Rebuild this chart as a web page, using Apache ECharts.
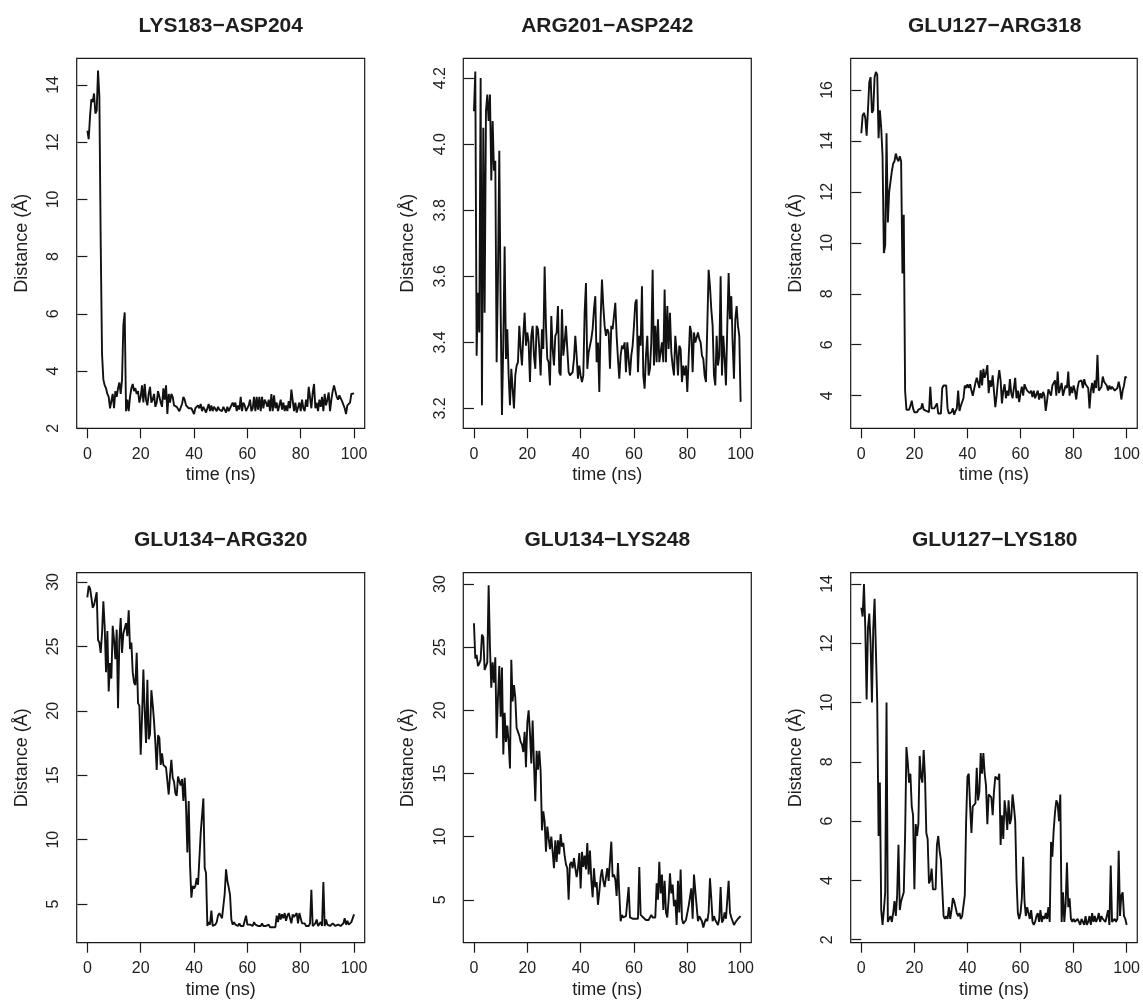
<!DOCTYPE html>
<html>
<head>
<meta charset="utf-8">
<script src="https://cdn.jsdelivr.net/npm/echarts@6/dist/echarts.min.js"></script>
<style>
html,body{margin:0;padding:0;background:#fff;}
#chart{width:1143px;height:1006px;}
</style>
</head>
<body>
<div id="chart"></div>
<script>
// sampling: one frame every 0.5 ns, 0..100 ns
const timeStepNs = 0.5;
const xTicks = [0, 20, 40, 60, 80, 100];

const titles = ['LYS183\u2212ASP204', 'ARG201\u2212ASP242', 'GLU127\u2212ARG318',
                'GLU134\u2212ARG320', 'GLU134\u2212LYS248', 'GLU127\u2212LYS180'];

const lys183Asp204 = [
 12.4, 12.1, 12.9, 13.5, 13.4, 13.7, 13.0, 13.1, 14.5, 13.6,
 8.5, 4.6, 3.7, 3.5, 3.4, 3.2, 3.1, 2.7, 2.7, 3.2,
 2.7, 3.3, 3.1, 3.4, 3.6, 3.2, 3.7, 5.6, 6.05, 2.6,
 3.0, 2.6, 3.1, 3.4, 3.55, 3.3, 3.4, 3.2, 3.3, 2.9,
 3.1, 3.5, 2.9, 3.55, 3.0, 2.8, 3.2, 3.45, 2.9, 3.0,
 3.2, 2.75, 2.9, 3.3, 3.1, 2.9, 2.75, 3.4, 3.0, 3.5,
 2.5, 3.2, 2.9, 3.2, 3.1, 2.8, 2.8, 2.75, 2.7, 2.6,
 2.6, 2.85, 3.1, 3.0, 2.8, 2.8, 2.7, 2.65, 2.7, 2.75,
 2.5, 2.7, 2.65, 2.8, 2.7, 2.85, 2.6, 2.75, 2.65, 2.55,
 2.7, 2.85, 2.6, 2.8, 2.6, 2.75, 2.7, 2.6, 2.75, 2.65,
 2.7, 2.6, 2.75, 2.65, 2.55, 2.75, 2.6, 2.7, 2.8, 2.9,
 2.75, 2.9, 2.6, 2.8, 2.65, 3.1, 2.6, 2.9, 2.8, 2.6,
 2.7, 2.8, 3.0, 2.6, 2.7, 3.1, 2.6, 3.1, 2.65, 3.1,
 2.6, 3.1, 2.7, 3.0, 2.9, 2.75, 3.0, 2.6, 3.2, 2.6,
 3.15, 2.7, 2.9, 2.6, 2.8, 3.0, 2.65, 2.9, 2.6, 2.8,
 2.6, 2.95, 2.7, 3.35, 3.3, 2.6, 2.9, 2.55, 2.6, 2.9,
 2.6, 3.0, 2.7, 2.6, 3.0, 2.75, 3.45, 3.5, 2.7, 3.25,
 3.55, 2.7, 2.9, 2.6, 3.0, 2.75, 3.1, 2.6, 3.2, 2.8,
 3.0, 3.25, 2.6, 3.0, 3.3, 3.5, 3.3, 3.1, 3.0, 3.15,
 3.1, 2.95, 3.0, 2.7, 2.5, 2.8, 2.75, 2.9, 3.2, 3.2,
 3.22
];

const arg201Asp242 = [
 4.10, 4.22, 3.36, 3.55, 3.43, 4.20, 3.21, 4.05, 3.49, 4.10,
 4.15, 4.07, 4.15, 3.89, 4.07, 3.92, 3.95, 3.34, 3.60, 3.98,
 3.50, 3.18, 3.40, 3.69, 3.35, 3.44, 3.30, 3.21, 3.32, 3.26,
 3.20, 3.30, 3.33, 3.34, 3.45, 3.38, 3.33, 3.42, 3.49, 3.39,
 3.43, 3.40, 3.28, 3.42, 3.45, 3.36, 3.32, 3.45, 3.44, 3.38,
 3.30, 3.44, 3.38, 3.63, 3.45, 3.35, 3.34, 3.27, 3.48, 3.38,
 3.33, 3.42, 3.43, 3.51, 3.31, 3.30, 3.50, 3.36, 3.40, 3.45,
 3.45, 3.31, 3.30, 3.30, 3.31, 3.35, 3.42, 3.36, 3.29, 3.33,
 3.30, 3.28, 3.30, 3.49, 3.58, 3.32, 3.37, 3.37, 3.41, 3.44,
 3.50, 3.54, 3.34, 3.40, 3.25, 3.47, 3.59, 3.51, 3.45, 3.42,
 3.44, 3.43, 3.32, 3.45, 3.44, 3.48, 3.52, 3.42, 3.35, 3.29,
 3.36, 3.39, 3.38, 3.40, 3.31, 3.40, 3.35, 3.30, 3.36, 3.39,
 3.45, 3.52, 3.53, 3.31, 3.42, 3.39, 3.57, 3.30, 3.26, 3.36,
 3.42, 3.30, 3.32, 3.40, 3.62, 3.33, 3.45, 3.34, 3.47, 3.34,
 3.34, 3.40, 3.34, 3.56, 3.34, 3.51, 3.38, 3.49, 3.37, 3.33,
 3.30, 3.42, 3.37, 3.30, 3.39, 3.38, 3.28, 3.33, 3.30, 3.33,
 3.25, 3.35, 3.45, 3.43, 3.31, 3.43, 3.40, 3.40, 3.43, 3.41,
 3.40, 3.36, 3.35, 3.30, 3.28, 3.45, 3.62, 3.57, 3.50, 3.45,
 3.30, 3.27, 3.42, 3.33, 3.36, 3.60, 3.30, 3.42, 3.35, 3.27,
 3.45, 3.61, 3.47, 3.54, 3.40, 3.29, 3.47, 3.51, 3.45, 3.42,
 3.22
];

const glu127Arg318 = [
 14.3, 15.0, 15.1, 14.9, 14.2, 15.2, 16.3, 16.5, 15.1, 15.2,
 16.5, 16.7, 16.6, 14.1, 15.2, 14.5, 13.4, 9.6, 9.9, 14.3,
 10.8, 12.0, 12.4, 12.8, 13.1, 13.2, 13.5, 13.3, 13.2, 13.4,
 13.2, 8.8, 11.1, 4.2, 3.45, 3.4, 3.45, 3.6, 3.8, 3.5,
 3.35, 3.4, 3.35, 3.45, 3.4, 3.5, 3.7, 3.45, 3.5, 3.4,
 3.45, 3.35, 4.35, 3.5, 3.45, 3.5, 3.6, 3.7, 3.3, 3.25,
 3.3, 4.3, 4.4, 4.35, 4.4, 3.5, 3.3, 3.25, 3.35, 3.5,
 3.25, 3.4, 3.5, 4.2, 3.4, 3.6, 3.75, 3.9, 4.4, 4.3,
 4.45, 4.3, 4.45, 4.2, 4.0, 4.05, 4.5, 4.7, 4.75, 4.3,
 5.0, 4.4, 5.05, 4.7, 4.9, 5.2, 4.1, 4.6, 4.35, 4.8,
 4.8, 3.55, 4.0, 4.6, 5.0, 4.6, 3.7, 4.2, 4.45, 3.9,
 4.2, 4.0, 4.65, 4.1, 3.9, 4.3, 4.7, 3.9, 4.2, 3.75,
 4.1, 4.35, 4.0, 4.45, 4.3, 4.2, 4.25, 4.1, 4.2, 3.95,
 4.2, 3.9, 4.05, 4.2, 3.85, 4.1, 3.9, 4.15, 4.0, 3.4,
 3.8, 4.25, 4.3, 4.0, 4.4, 4.5, 4.6, 4.0, 4.95, 4.1,
 4.15, 4.5, 4.0, 4.2, 4.4, 4.3, 4.95, 4.0, 4.35, 4.1,
 4.4, 4.2, 3.85, 4.3, 4.55, 4.5, 4.6, 4.3, 4.65, 4.45,
 4.45, 4.3, 3.5, 4.2, 4.5, 4.1, 4.6, 4.3, 5.6, 4.2,
 4.25, 4.35, 4.75, 4.55, 4.6, 4.4, 4.2, 4.4, 4.25, 4.35,
 4.3, 4.2, 4.2, 4.3, 4.55, 4.3, 3.85, 4.2, 4.4, 4.75,
 4.7
];

const glu134Arg320 = [
 28.8, 29.7, 29.5, 28.8, 28.0, 28.2, 28.7, 29.2, 25.5, 25.3,
 24.5, 26.0, 28.5, 26.5, 23.0, 26.2, 21.5, 23.7, 22.5, 26.6,
 25.5, 24.0, 26.3, 20.2, 25.5, 27.2, 24.5, 26.0, 26.0, 26.8,
 25.8, 27.8, 24.8, 25.3, 23.0, 22.2, 22.0, 24.5, 20.6, 20.4,
 16.6, 19.5, 23.2, 20.0, 17.5, 22.4, 17.8, 18.2, 21.6, 20.5,
 19.2, 17.5, 15.4, 18.1, 17.9, 15.8, 16.7, 15.8, 15.8, 15.6,
 15.6, 13.5, 15.0, 16.2, 14.8, 14.5, 13.6, 13.4, 14.9, 14.8,
 14.2, 14.7, 13.0, 14.8, 12.6, 9.0, 13.0, 8.0, 5.5, 6.4,
 6.2, 6.4, 7.0, 6.5, 6.5, 10.5, 10.5, 13.2, 7.8, 7.4,
 3.3, 3.6, 3.4, 4.5, 3.3, 3.2, 3.4, 3.6, 4.1, 4.3,
 4.2, 3.9, 4.0, 5.8, 7.7, 6.8, 6.3, 5.7, 3.8, 3.4,
 3.6, 3.4, 3.5, 3.3, 3.5, 3.3, 3.4, 3.3, 3.3, 4.1,
 3.4, 3.3, 3.4, 3.3, 3.3, 3.6, 3.4, 3.3, 3.3, 3.4,
 3.3, 3.5, 3.3, 3.4, 3.3, 3.3, 3.4, 3.2, 3.3, 3.2,
 3.3, 3.2, 4.1, 3.6, 4.3, 3.8, 4.2, 3.9, 4.3, 3.7,
 4.1, 4.3, 4.3, 3.5, 4.2, 4.0, 4.1, 4.3, 3.5, 4.3,
 4.3, 3.5, 3.4, 3.5, 3.3, 3.4, 3.3, 3.5, 6.1, 3.3,
 3.4, 3.5, 3.8, 3.3, 3.4, 3.6, 3.3, 6.7, 3.3, 3.8,
 3.4, 3.4, 3.3, 3.4, 3.5, 3.4, 3.3, 3.4, 3.4, 3.5,
 3.3, 3.4, 3.5, 3.9, 3.4, 3.7, 3.4, 3.5, 3.6, 3.5,
 4.2
];

const glu134Lys248 = [
 26.9, 24.1, 24.4, 23.5, 23.7, 24.0, 26.0, 25.8, 23.2, 23.3,
 23.8, 29.9, 25.0, 21.8, 23.8, 22.2, 24.2, 17.8, 21.0, 23.5,
 19.5, 23.4, 16.5, 19.8, 17.5, 18.8, 17.5, 15.4, 24.0, 20.7,
 22.0, 21.0, 18.6, 18.5, 18.0, 17.5, 17.3, 16.7, 18.3, 15.5,
 19.0, 20.0, 18.2, 15.8, 19.2, 15.8, 12.8, 16.8, 15.3, 16.8,
 15.2, 10.5, 12.0, 11.2, 8.8, 10.8, 10.9, 9.0, 10.0, 8.8,
 7.5, 9.7, 8.0, 9.7, 8.6, 10.2, 9.2, 9.5, 8.5, 7.8,
 7.5, 5.0, 7.8, 8.0, 7.5, 8.3, 7.5, 6.8, 7.5, 8.7,
 5.9, 8.8, 7.6, 8.5, 7.4, 9.5, 7.0, 8.9, 6.6, 5.2,
 7.5, 6.0, 6.4, 4.6, 5.6, 6.8, 7.4, 6.5, 6.0, 6.8,
 7.5, 6.5, 6.4, 9.6, 6.8, 7.0, 6.6, 5.3, 7.9, 5.5,
 3.3, 3.8, 3.6, 3.7, 3.7, 3.6, 6.0, 3.6, 3.6, 3.5,
 3.6, 3.5, 3.6, 3.5, 7.6, 3.8, 3.7, 3.6, 3.5, 3.4,
 3.5, 3.4, 3.5, 3.8, 3.6, 3.5, 3.6, 6.3, 5.0, 8.0,
 5.5, 7.0, 4.2, 6.5, 4.0, 3.6, 5.0, 7.1, 5.5, 6.2,
 4.5, 5.0, 3.0, 6.5, 4.0, 7.4, 3.5, 3.1, 3.2, 3.4,
 3.3, 4.5, 4.6, 5.9, 3.5, 7.0, 5.7, 5.6, 3.3, 3.7,
 3.5, 3.3, 2.8, 3.2, 3.5, 3.3, 4.0, 6.7, 5.1, 3.3,
 3.7, 3.4, 3.3, 3.0, 3.5, 6.0, 3.2, 3.4, 4.0, 3.5,
 3.6, 6.5, 4.0, 3.6, 3.3, 3.0, 3.2, 3.3, 3.5, 3.6,
 3.7
];

const glu127Lys180 = [
 13.2, 12.9, 14.0, 12.5, 10.1, 12.5, 13.0, 12.0, 10.0, 12.5,
 13.5, 13.5, 10.0, 5.5, 7.3, 3.0, 2.5, 3.0, 3.6, 10.0,
 2.6, 2.7, 2.8, 2.6, 2.9, 3.3, 2.8, 3.5, 5.2, 3.0,
 3.3, 3.3, 3.6, 5.5, 8.5, 8.0, 7.3, 7.6, 6.5, 6.2,
 3.7, 5.9, 5.5, 5.9, 8.2, 7.5, 7.3, 8.4, 7.5, 5.6,
 5.4, 3.9, 4.0, 4.4, 3.7, 3.7, 3.7, 5.2, 5.5, 5.0,
 4.7, 4.7, 2.8, 2.7, 2.8, 2.7, 3.1, 2.7, 3.0, 3.4,
 3.3, 3.1, 2.9, 2.8, 2.9, 2.7, 2.8, 2.8, 3.5, 6.0,
 7.5, 7.6, 6.5, 5.6, 6.5, 6.5, 6.6, 7.8, 6.7, 7.0,
 8.3, 7.6, 8.3, 7.6, 7.2, 5.9, 6.9, 6.9, 6.8, 6.2,
 7.0, 7.5, 7.5, 7.4, 7.6, 5.2, 6.2, 5.4, 6.7, 6.3,
 5.7, 6.7, 5.9, 6.1, 6.9, 6.5, 6.0, 4.0, 2.9, 2.7,
 2.9, 3.4, 4.8, 3.3, 2.8, 3.1, 3.1, 2.7, 3.0, 2.6,
 2.5, 2.6, 2.8, 2.9, 2.6, 3.0, 2.6, 2.8, 2.7, 2.9,
 2.7, 3.1, 2.6, 5.3, 4.8, 5.7, 6.3, 6.7, 6.6, 6.0,
 6.9, 2.6, 3.6, 2.6, 3.2, 4.6, 3.1, 3.4, 2.7, 2.6,
 2.7, 2.6, 2.6, 2.7, 2.6, 2.5, 2.7, 2.6, 2.5, 2.8,
 2.5, 2.6, 2.8, 2.5, 2.9, 2.6, 2.8, 2.6, 2.7, 2.9,
 2.6, 2.8, 2.7, 2.7, 2.6, 2.6, 3.0, 2.5, 4.5, 2.6,
 2.6, 2.7, 2.6, 2.7, 5.0, 2.8, 3.5, 3.6, 2.8, 2.7,
 2.5
];

const seriesValues = [lys183Asp204, arg201Asp242, glu127Arg318, glu134Arg320, glu134Lys248, glu127Lys180];

const yTicks1 = [2, 4, 6, 8, 10, 12, 14];
const yTicks2 = [3.2, 3.4, 3.6, 3.8, 4.0, 4.2];
const yTicks3 = [4, 6, 8, 10, 12, 14, 16];
const yTicks4 = [5, 10, 15, 20, 25, 30];
const yTicks5 = [5, 10, 15, 20, 25, 30];
const yTicks6 = [2, 4, 6, 8, 10, 12, 14];
const yTickSets = [yTicks1, yTicks2, yTicks3, yTicks4, yTicks5, yTicks6];
const yDecimals = [0, 1, 0, 0, 0, 0];

// axis ranges (R style 4% padding)
const yMins = [2.0, 3.14, 2.72, 2.0, 1.6, 1.9];
const yMaxs = [14.93, 4.26, 17.24, 30.72, 30.9, 14.38];

const xLabel = 'time (ns)';
const yLabel = 'Distance (\u00C5)';

// ---- layout ----
const FONT = '"Liberation Sans", Arial, Helvetica, sans-serif';
const TEXT = '#1e1e1e';
const colLeft = [76.7, 463.3, 850.7];
const rowTop = [58.3, 572.7];
const boxW = 288, boxH = 370;

const grids = [], xAxes = [], yAxes = [], series = [], titleList = [];
for (let i = 0; i < 6; i++) {
  const c = i % 3, r = Math.floor(i / 3);
  grids.push({
    left: colLeft[c], top: rowTop[r], width: boxW, height: boxH,
    show: true, borderColor: '#1a1a1a', borderWidth: 1.2, backgroundColor: 'transparent',
    containLabel: false
  });
  xAxes.push({
    type: 'value', gridIndex: i, min: -4, max: 104,
    axisLine: { show: false },
    axisTick: { show: true, length: 10, customValues: xTicks, lineStyle: { color: '#1a1a1a', width: 1.2 } },
    axisLabel: { customValues: xTicks, margin: 18, fontSize: 16, color: TEXT, fontFamily: FONT },
    splitLine: { show: false },
    name: xLabel, nameLocation: 'middle', nameGap: 38,
    nameTextStyle: { fontSize: 18, color: TEXT, fontFamily: FONT }
  });
  const dec = yDecimals[i];
  yAxes.push({
    type: 'value', gridIndex: i, min: yMins[i], max: yMaxs[i],
    axisLine: { show: false },
    axisTick: { show: true, length: 10, customValues: yTickSets[i], lineStyle: { color: '#1a1a1a', width: 1.2 } },
    axisLabel: { customValues: yTickSets[i], rotate: 90, margin: 15, fontSize: 16, color: TEXT, fontFamily: FONT,
                 formatter: v => Number(v).toFixed(dec) },
    splitLine: { show: false },
    name: yLabel, nameLocation: 'middle', nameGap: 46,
    nameTextStyle: { fontSize: 18, color: TEXT, fontFamily: FONT }
  });
  const vals = seriesValues[i];
  series.push({
    type: 'line', xAxisIndex: i, yAxisIndex: i, showSymbol: false, symbol: 'none',
    clip: true, animation: false,
    lineStyle: { color: '#111', width: 1.9 },
    data: vals.map((v, k) => [k * timeStepNs, v])
  });
  titleList.push({
    text: titles[i], left: colLeft[c] + boxW / 2, top: rowTop[r] - 43, textAlign: 'center', padding: 0,
    textStyle: { fontSize: 21, fontWeight: 'bold', color: TEXT, fontFamily: FONT }
  });
}

const chart = echarts.init(document.getElementById('chart'), null, { renderer: 'canvas' });
chart.setOption({
  backgroundColor: '#fff',
  animation: false,
  title: titleList,
  grid: grids,
  xAxis: xAxes,
  yAxis: yAxes,
  series: series
});
</script>
</body>
</html>
